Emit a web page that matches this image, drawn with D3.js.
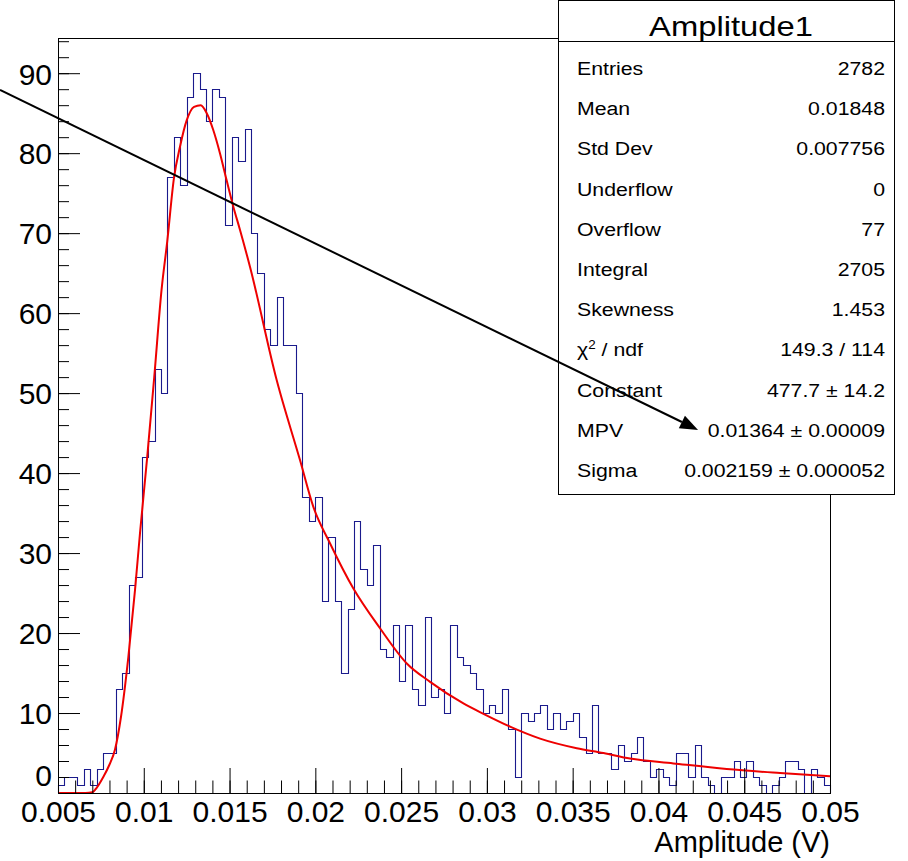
<!DOCTYPE html>
<html><head><meta charset="utf-8">
<script src="https://cdn.jsdelivr.net/npm/d3@7"></script>
<style>
html,body{margin:0;padding:0;background:#fff;}
svg{display:block;font-family:"Liberation Sans",Arial,Helvetica,sans-serif;}
</style></head><body>
<svg id="chart" width="908" height="861"></svg>
<script>
// ---- data ----
const histRange = [0.005, 0.05];           // histogram axis range (V)
const binCounts = [
  1,2,2,1,3,1,3,5,5,13,
  15,26,27,42,44,53,50,77,82,76,
  87,90,88,84,88,87,71,82,79,83,
  70,65,58,56,62,56,56,50,37,34,
  37,24,32,24,15,23,34,28,26,31,
  18,17,21,14,21,13,11,22,12,13,
  10,21,17,16,15,13,10,11,10,13,
  8,2,10,9,10,11,8,10,8,9,
  10,7,5,11,5,5,3,6,4,5,
  7,4,2,3,2,1,5,5,2,6,
  2,1,0,2,2,4,2,4,2,1,
  0,1,2,4,4,3,0,3,2,1
];
const yMax = 94.4;
// Landau fit curve
const fitX = [0.005,0.0066,0.0070,0.00720,0.00764,0.00799,0.00832,0.00867,0.00910,0.00949,0.00978,0.01020,0.01061,0.01104,0.01137,0.01176,0.01211,0.01250,0.01293,0.01332,0.01367,0.01405,0.01444,0.01483,0.01522,0.01561,0.01619,0.01775,0.01911,0.01988,0.02086,0.02221,0.02377,0.02533,0.02669,0.02863,0.02980,0.03135,0.03310,0.03524,0.03680,0.03834,0.04087,0.04398,0.04709,0.05];
const fitY = [0,0,0.1,0.5,2.0,3.5,5.4,9.5,17,25.4,32.5,42,52,63,69,76.9,80.8,84.1,85.8,86,85,82.9,80,76.6,73.3,70.4,65.8,51.6,41.6,35.8,31.2,25.6,20.6,16.2,13.9,11.2,9.9,8.3,6.8,5.6,5.0,4.3,3.7,3.0,2.5,2.1];
const xMajorTicks = [0.005,0.01,0.015,0.02,0.025,0.03,0.035,0.04,0.045,0.05];
const xTickLabels = ["0.005","0.01","0.015","0.02","0.025","0.03","0.035","0.04","0.045","0.05"];
const yMajorTicks = [0,10,20,30,40,50,60,70,80,90];
const yTickLabels = ["0","10","20","30","40","50","60","70","80","90"];
const xTitle = "Amplitude (V)";
const statsTitle = "Amplitude1";
const statsLabels = ["Entries","Mean","Std Dev","Underflow","Overflow","Integral","Skewness","CHI2","Constant","MPV","Sigma"];
const statsValues = ["2782","0.01848","0.007756","0","77","2705","1.453","149.3 / 114","477.7 \u00b1 14.2","0.01364 \u00b1 0.00009","0.002159 \u00b1 0.000052"];
// arrow annotation, in axis units
const arrowFrom = [0.00162, 87.9];
const arrowTo = [0.04231, 45.4];

// ---- drawing ----
const svg = d3.select("#chart");
const L = 58, R = 830, T = 38, B = 793;
const x = d3.scaleLinear().domain(histRange).range([L, R]);
const y = d3.scaleLinear().domain([0, yMax]).range([B, T]);

svg.append("rect").attr("width",908).attr("height",861).attr("fill","#fff");

// histogram outline
const bw = (histRange[1]-histRange[0]) / binCounts.length;
const pts = [[histRange[0], 0]];
binCounts.forEach((c,i) => { pts.push([histRange[0]+i*bw, c]); pts.push([histRange[0]+(i+1)*bw, c]); });
pts.push([histRange[1], 0]);
svg.append("path")
  .attr("d", d3.line().x(d=>Math.round(x(d[0]))+0.5).y(d=>Math.round(y(d[1]))+0.5)(pts))
  .attr("fill","none").attr("stroke","#1a1a8c").attr("stroke-width",1.1);

// fit curve
svg.append("path")
  .attr("d", d3.line().curve(d3.curveMonotoneX).x((d,i)=>x(fitX[i])).y(d=>y(d))(fitY))
  .attr("fill","none").attr("stroke","#ee0000").attr("stroke-width",2);

// frame
svg.append("rect").attr("x",L+0.5).attr("y",T+0.5).attr("width",R-L).attr("height",B-T)
  .attr("fill","none").attr("stroke","#000").attr("stroke-width",1);

// y axis
const yMinor = d3.range(0, yMax, 2);
const gyMinor = svg.append("g").attr("transform",`translate(${L},0)`)
  .call(d3.axisLeft(y).tickValues(yMinor).tickSize(-11).tickFormat(""));
gyMinor.select(".domain").remove();
const gy = svg.append("g").attr("transform",`translate(${L},0)`)
  .call(d3.axisLeft(y).tickValues(yMajorTicks).tickSize(-22).tickPadding(6)
    .tickFormat((d,i)=>yTickLabels[i]));
gy.select(".domain").remove();
gy.selectAll("text").attr("font-size",30).attr("font-family","Liberation Sans, Arial, sans-serif")
  .attr("fill","#000").attr("dy","0.36em");
gy.selectAll(".tick").filter(d=>d===0).select("text").attr("dy","-0.25em");

// x axis
const xMinor = d3.range(0, 46).map(i => histRange[0] + i*0.001);
const gxMinor = svg.append("g").attr("transform",`translate(0,${B})`)
  .call(d3.axisBottom(x).tickValues(xMinor).tickSize(-12.5).tickFormat(""));
gxMinor.select(".domain").remove();
const gx = svg.append("g").attr("transform",`translate(0,${B})`)
  .call(d3.axisBottom(x).tickValues(xMajorTicks).tickSize(-25).tickPadding(8)
    .tickFormat((d,i)=>xTickLabels[i]));
gx.select(".domain").remove();
gx.selectAll("text").attr("font-size",30).attr("font-family","Liberation Sans, Arial, sans-serif").attr("fill","#000");
svg.selectAll(".tick line").attr("stroke","#000");

svg.append("text").attr("x",R).attr("y",852).attr("text-anchor","end")
  .attr("font-size",29).attr("fill","#000").text(xTitle);

// stats box
const bx0 = 558, bx1 = 894, by0 = 0, by1 = 494, hdr = 41;
svg.append("rect").attr("x",bx0+0.5).attr("y",by0+0.5).attr("width",bx1-bx0).attr("height",by1-by0)
  .attr("fill","#fff").attr("stroke","#000").attr("stroke-width",1);
svg.append("line").attr("x1",bx0).attr("x2",bx1).attr("y1",hdr+0.5).attr("y2",hdr+0.5).attr("stroke","#000");
svg.append("text").attr("transform",`translate(${(bx0+bx1)/2+5},36) scale(1.17,1)`)
  .attr("text-anchor","middle").attr("font-size",28).attr("fill","#000").text(statsTitle);
statsLabels.forEach((lab,i) => {
  const by = 75 + i*40.2;
  const t = svg.append("text").attr("transform",`translate(577,${by}) scale(1.12,1)`)
    .attr("font-size",19).attr("fill","#000");
  if (lab === "CHI2") {
    t.append("tspan").text("\u03c7");
    t.append("tspan").attr("font-size",12).attr("dy",-7).text("2");
    t.append("tspan").attr("dy",7).text(" / ndf");
  } else t.text(lab);
  svg.append("text").attr("transform",`translate(885,${by}) scale(1.12,1)`)
    .attr("text-anchor","end").attr("font-size",19).attr("fill","#000").text(statsValues[i]);
});

// arrow
const ax0 = x(arrowFrom[0]), ay0 = y(arrowFrom[1]), ax1 = x(arrowTo[0]), ay1 = y(arrowTo[1]);
const ang = Math.atan2(ay1-ay0, ax1-ax0), hl = 18, hw = 7;
const bxp = ax1 - hl*Math.cos(ang), byp = ay1 - hl*Math.sin(ang);
svg.append("line").attr("x1",ax0).attr("y1",ay0).attr("x2",bxp).attr("y2",byp)
  .attr("stroke","#000").attr("stroke-width",2);
svg.append("polygon").attr("points",[
  [ax1,ay1],
  [bxp - hw*Math.sin(ang), byp + hw*Math.cos(ang)],
  [bxp + hw*Math.sin(ang), byp - hw*Math.cos(ang)]
].map(p=>p.join(",")).join(" ")).attr("fill","#000");
</script>
</body></html>
